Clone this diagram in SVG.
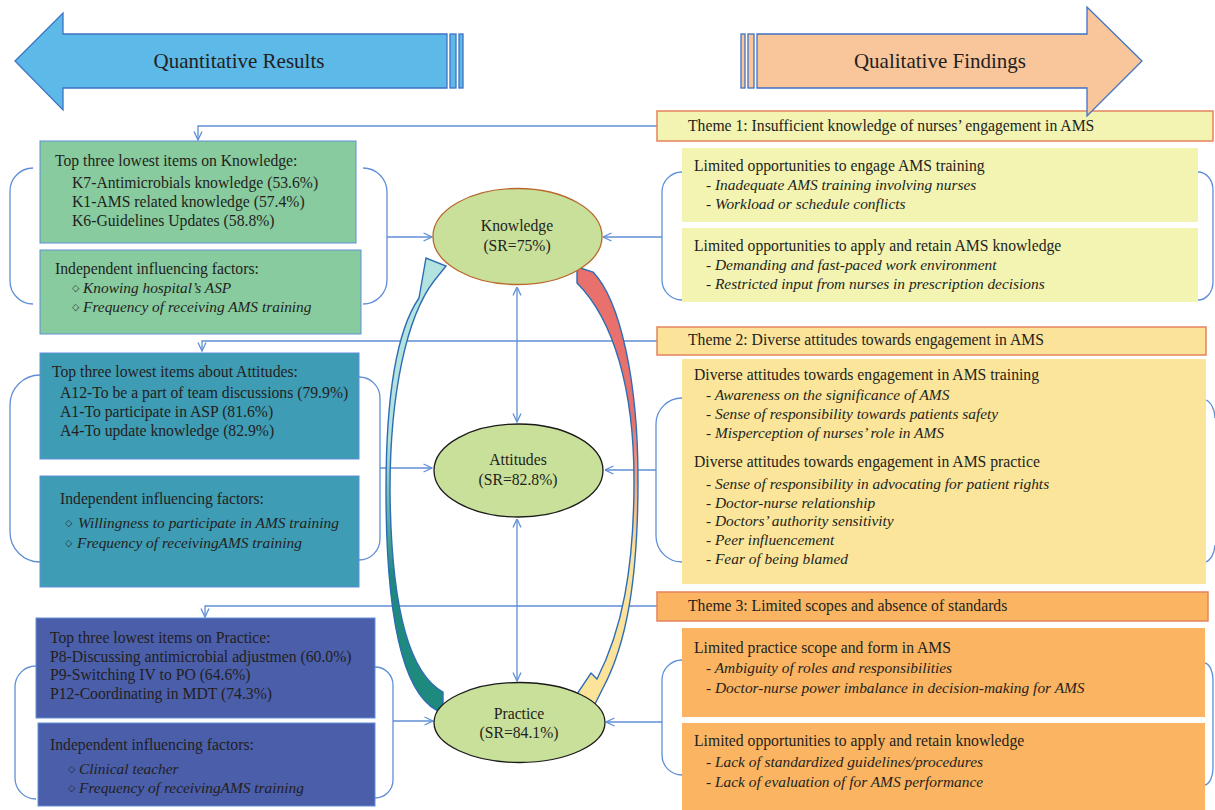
<svg xmlns="http://www.w3.org/2000/svg" width="1215" height="810" viewBox="0 0 1215 810">
<style>
.t{font-family:'Liberation Serif','DejaVu Serif',serif;font-size:15.7px;fill:#231F20}
.i{font-style:italic;font-size:15.4px}
.h{font-size:21px}
.c{text-anchor:middle}
.b{font-family:'DejaVu Sans',sans-serif;font-size:9.5px;fill:#231F20}
.conn{fill:none;stroke:#5F8FD6;stroke-width:1.3}
.box{stroke:#5F8FD6;stroke-width:1}
.theme{stroke:#E5845C;stroke-width:1.5}
.ell{fill:#C9E09A;stroke-width:1.3}
.big{stroke:#3F72C4;stroke-width:1.3}
.curve{stroke:#2E6DB4;stroke-width:1.4;stroke-linejoin:miter}
</style>
<defs>
<marker id="ah" viewBox="0 0 10 10" refX="9.5" refY="5" markerWidth="10" markerHeight="10" markerUnits="userSpaceOnUse" orient="auto-start-reverse">
<path d="M1,1 L9.5,5 L1,9" fill="none" stroke="#5F8FD6" stroke-width="1.3"/>
</marker>
<linearGradient id="gL" gradientUnits="userSpaceOnUse" x1="0" y1="712" x2="0" y2="258">
<stop offset="0" stop-color="#1E8A7E"/><stop offset="0.3" stop-color="#1E8A7E"/><stop offset="0.6" stop-color="#B3E3DF"/><stop offset="1" stop-color="#B3E3DF"/>
</linearGradient>
<linearGradient id="gR" gradientUnits="userSpaceOnUse" x1="0" y1="268" x2="0" y2="705">
<stop offset="0" stop-color="#E8716D"/><stop offset="0.35" stop-color="#E8716D"/><stop offset="0.65" stop-color="#FCE39A"/><stop offset="1" stop-color="#FCE39A"/>
</linearGradient>
</defs>
<rect width="1215" height="810" fill="#FFFFFF"/>

<g id="connectors">
<path class="conn" d="M657,126 H198 V140" marker-end="url(#ah)"/>
<path class="conn" d="M657,341 H202 V351" marker-end="url(#ah)"/>
<path class="conn" d="M657,606 H205 V617" marker-end="url(#ah)"/>
<path class="conn" d="M33,168 A23,23 0 0 0 10,191 V281 A23,23 0 0 0 33,304"/>
<path class="conn" d="M363,168 A24,24 0 0 1 387,192 V280 A24,24 0 0 1 363,304"/>
<path class="conn" d="M387,237 H432" marker-end="url(#ah)"/>
<path class="conn" d="M682,172 A20,20 0 0 0 662,192 V280 A20,20 0 0 0 682,300"/>
<path class="conn" d="M662,237 H603" marker-end="url(#ah)"/>
<path class="conn" d="M1198,172 A15,18 0 0 1 1213,190 V282 A15,18 0 0 1 1198,300"/>
<path class="conn" d="M40,375 A30,30 0 0 0 10,405 V532 A30,30 0 0 0 40,562"/>
<path class="conn" d="M359,377 A21,21 0 0 1 380,398 V539 A21,21 0 0 1 359,560"/>
<path class="conn" d="M380,468 H432" marker-end="url(#ah)"/>
<path class="conn" d="M682,398 A26,26 0 0 0 656,424 V536 A26,26 0 0 0 682,562"/>
<path class="conn" d="M656,470 H605" marker-end="url(#ah)"/>
<path class="conn" d="M1206,400 A12,20 0 0 1 1215,418"/>
<path class="conn" d="M1215,545 A12,20 0 0 1 1206,562"/>
<path class="conn" d="M36,666 A21,21 0 0 0 15,687 V778 A21,21 0 0 0 36,799"/>
<path class="conn" d="M375,667 A18,18 0 0 1 393,685 V780 A18,18 0 0 1 375,798"/>
<path class="conn" d="M393,721 H433" marker-end="url(#ah)"/>
<path class="conn" d="M682,660 A20,20 0 0 0 662,680 V755 A20,20 0 0 0 682,775"/>
<path class="conn" d="M662,722 H606" marker-end="url(#ah)"/>
<path class="conn" d="M1205,663 A9,17 0 0 1 1213,680 V768 A9,17 0 0 1 1205,785"/>
<path class="conn" d="M517,287 V422" marker-start="url(#ah)" marker-end="url(#ah)"/>
<path class="conn" d="M517,519 V681" marker-start="url(#ah)" marker-end="url(#ah)"/>
<path class="curve" fill="url(#gL)" d="M443,713 C403,700 386,620 386,490 C386,392 397,330 419,298 L426,258 L446,266 L434,281 C407,316 390,392 390,490 C391,610 410,674 443,692 Z"/>
<path class="curve" fill="url(#gR)" d="M577,267 L593,272 C620,300 638,380 638,480 C638,582 626,645 603,688 L594,706 L577,694 L591,673 L597,679 C622,630 634,570 634,480 C634,390 614,320 577,283 Z"/>
</g>

<g id="theme1">
<rect class="theme" x="657" y="111" width="556" height="30" fill="#F3F3B2"/>
<text class="t" x="688" y="131">Theme 1: Insufficient knowledge of nurses’ engagement in AMS</text>
</g>
<g id="theme2">
<rect class="theme" x="657" y="327" width="549" height="28" fill="#FBE49A"/>
<text class="t" x="688" y="345">Theme 2: Diverse attitudes towards engagement in AMS</text>
</g>
<g id="theme3">
<rect class="theme" x="657" y="592" width="551" height="29" fill="#FBB562"/>
<text class="t" x="688" y="611">Theme 3: Limited scopes and absence of standards</text>
</g>

<g id="arrow-quantitative">
<polygon class="big" fill="#5DB9E8" points="15,61 63,13 63,34 447,34 447,88 63,88 63,110"/>
<rect class="big" fill="#5DB9E8" x="450" y="34" width="6" height="54"/>
<rect class="big" fill="#5DB9E8" x="459" y="34" width="4" height="54"/>
<text class="t h c" x="239" y="68">Quantitative Results</text>
</g>
<g id="arrow-qualitative">
<polygon class="big" fill="#F9C59A" points="757,34 1087,34 1087,7 1142,61 1087,116 1087,88 757,88"/>
<rect class="big" fill="#F9C59A" x="741" y="34" width="4" height="54"/>
<rect class="big" fill="#F9C59A" x="748" y="34" width="6" height="54"/>
<text class="t h c" x="940" y="68">Qualitative Findings</text>
</g>

<g id="k-items">
<rect class="box" x="40" y="141" width="316" height="102" fill="#88CB9F"/>
<text class="t" x="55" y="166">Top three lowest items on Knowledge:</text>
<text class="t" x="72" y="188">K7-Antimicrobials knowledge (53.6%)</text>
<text class="t" x="72" y="207">K1-AMS related knowledge (57.4%)</text>
<text class="t" x="72" y="226">K6-Guidelines Updates (58.8%)</text>
</g>
<g id="k-factors">
<rect class="box" x="40" y="250" width="321" height="84" fill="#88CB9F"/>
<text class="t" x="55" y="274">Independent influencing factors:</text>
<text class="b" x="72" y="291">◇</text>
<text class="t i" x="83" y="293">Knowing hospital’s ASP</text>
<text class="b" x="72" y="310">◇</text>
<text class="t i" x="83" y="312">Frequency of receiving AMS training</text>
</g>

<g id="a-items">
<rect class="box" x="40" y="353" width="319" height="106" fill="#3E9CB5"/>
<text class="t" x="52" y="377">Top three lowest items about Attitudes:</text>
<text class="t" x="60" y="398">A12-To be a part of team discussions (79.9%)</text>
<text class="t" x="60" y="417">A1-To participate in ASP (81.6%)</text>
<text class="t" x="60" y="436">A4-To update knowledge (82.9%)</text>
</g>
<g id="a-factors">
<rect class="box" x="40" y="476" width="319" height="111" fill="#3E9CB5"/>
<text class="t" x="60" y="504">Independent influencing factors:</text>
<text class="b" x="65" y="526">◇</text>
<text class="t i" x="78" y="528">Willingness to participate in AMS training</text>
<text class="b" x="65" y="546">◇</text>
<text class="t i" x="77" y="548">Frequency of receivingAMS training</text>
</g>

<g id="p-items">
<rect class="box" x="36" y="618" width="339" height="100" fill="#4A5EAA"/>
<text class="t" x="50" y="643">Top three lowest items on Practice:</text>
<text class="t" x="50" y="662">P8-Discussing antimicrobial adjustmen (60.0%)</text>
<text class="t" x="50" y="680">P9-Switching IV to PO (64.6%)</text>
<text class="t" x="50" y="699">P12-Coordinating in MDT (74.3%)</text>
</g>
<g id="p-factors">
<rect class="box" x="38" y="723" width="337" height="83" fill="#4A5EAA"/>
<text class="t" x="50" y="750">Independent influencing factors:</text>
<text class="b" x="68" y="772">◇</text>
<text class="t i" x="79" y="774">Clinical teacher</text>
<text class="b" x="68" y="791">◇</text>
<text class="t i" x="79" y="793">Frequency of receivingAMS training</text>
</g>

<g id="knowledge">
<ellipse class="ell" cx="517.5" cy="236.5" rx="84.5" ry="48" stroke="#B8692C"/>
<text class="t c" x="517" y="231">Knowledge</text>
<text class="t c" x="517" y="251">(SR=75%)</text>
</g>
<g id="attitudes">
<ellipse class="ell" cx="518.5" cy="470.5" rx="84.5" ry="46.5" stroke="#1A1A1A"/>
<text class="t c" x="518" y="465">Attitudes</text>
<text class="t c" x="518" y="485">(SR=82.8%)</text>
</g>
<g id="practice">
<ellipse class="ell" cx="519.5" cy="722.5" rx="85.5" ry="40" stroke="#1A1A1A"/>
<text class="t c" x="519" y="719">Practice</text>
<text class="t c" x="519" y="738">(SR=84.1%)</text>
</g>

<g id="t1-training">
<rect x="682" y="148" width="516" height="74" fill="#F3F3B2"/>
<text class="t" x="694" y="171">Limited opportunities to engage AMS training</text>
<text class="t i" x="706" y="190">- Inadequate AMS training involving nurses</text>
<text class="t i" x="706" y="209">- Workload or schedule conflicts</text>
</g>
<g id="t1-apply">
<rect x="682" y="228" width="516" height="74" fill="#F3F3B2"/>
<text class="t" x="694" y="251">Limited opportunities to apply and retain AMS knowledge</text>
<text class="t i" x="706" y="270">- Demanding and fast-paced work environment</text>
<text class="t i" x="706" y="289">- Restricted input from nurses in prescription decisions</text>
</g>
<g id="t2-attitudes">
<rect x="682" y="359" width="524" height="225" fill="#FBE59A"/>
<text class="t" x="694" y="380">Diverse attitudes towards engagement in AMS training</text>
<text class="t i" x="706" y="400">- Awareness on the significance of AMS</text>
<text class="t i" x="706" y="419">- Sense of responsibility towards patients safety</text>
<text class="t i" x="706" y="438">- Misperception of nurses’ role in AMS</text>
<text class="t" x="694" y="467">Diverse attitudes towards engagement in AMS practice</text>
<text class="t i" x="706" y="489">- Sense of responsibility in advocating for patient rights</text>
<text class="t i" x="706" y="508">- Doctor-nurse relationship</text>
<text class="t i" x="706" y="526">- Doctors’ authority sensitivity</text>
<text class="t i" x="706" y="545">- Peer influencement</text>
<text class="t i" x="706" y="564">- Fear of being blamed</text>
</g>
<g id="t3-scope">
<rect x="682" y="628" width="523" height="89" fill="#FBB562"/>
<text class="t" x="694" y="653">Limited practice scope and form in AMS</text>
<text class="t i" x="706" y="673">- Ambiguity of roles and responsibilities</text>
<text class="t i" x="706" y="693">- Doctor-nurse power imbalance in decision-making for AMS</text>
</g>
<g id="t3-standards">
<rect x="682" y="723" width="523" height="87" fill="#FBB562"/>
<text class="t" x="694" y="746">Limited opportunities to apply and retain knowledge</text>
<text class="t i" x="706" y="767">- Lack of standardized guidelines/procedures</text>
<text class="t i" x="706" y="787">- Lack of evaluation of for AMS performance</text>
</g>
</svg>
